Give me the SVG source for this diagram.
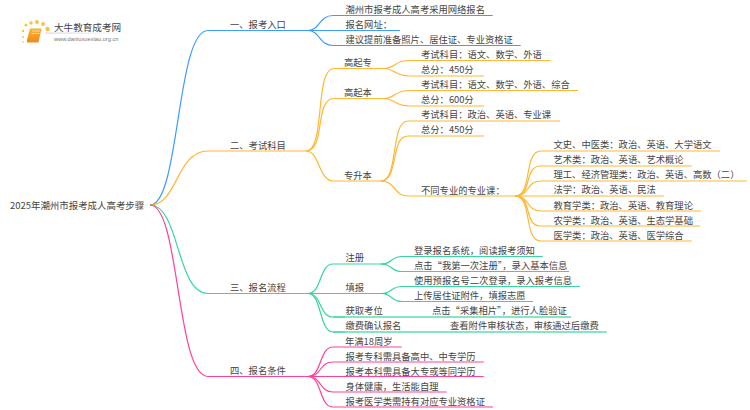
<svg xmlns="http://www.w3.org/2000/svg" width="750" height="410" viewBox="0 0 750 410">
<defs><linearGradient id="fade" x1="0" x2="1" y1="0" y2="0"><stop offset="0" stop-color="#bbb"/><stop offset="1" stop-color="#fff"/></linearGradient>
<linearGradient id="bk" x1="0" x2="0" y1="0" y2="1"><stop offset="0" stop-color="#fbb030"/><stop offset="1" stop-color="#f08a1c"/></linearGradient></defs>
<style>
text{font-family:"Noto Sans CJK SC","Liberation Sans",sans-serif;font-size:9.3px;fill:#444}
path{fill:none;stroke-width:1.2}
.b{stroke:#3d9cff}.o{stroke:#fdb733}.g{stroke:#36d69c}.p{stroke:#ff4199}
.w{stroke-width:1.8;opacity:.6}
circle{fill:#fcc04a}
</style>
<rect width="750" height="410" fill="#fff"/>
<g id="logo">
<circle cx="23" cy="31" r="1.200"/><circle cx="26" cy="25" r="1.500"/><circle cx="31" cy="23" r="1.800"/><circle cx="37" cy="22" r="1.900"/><circle cx="43" cy="24" r="1.900"/><circle cx="47.500" cy="29" r="2.200"/><circle cx="23" cy="37" r="1"/><circle cx="23" cy="42" r=".8"/>
<path d="M30 28.500H41.500L38.500 42.500H27.500Q26.500 42.500 27 40Z" style="fill:url(#bk);stroke:none"/><path d="M32 31H40M31.500 33.500H39.500" style="stroke:#fff;stroke-width:.6"/>
<rect x="45" y="32.700" width="88" height=".7" fill="url(#fade)"/>
<text x="54" y="30.500" style="font-size:9.600px">大牛教育成考网</text>
<text x="54" y="40.700" style="font-size:5.700px;fill:#777;font-family:'Liberation Sans',sans-serif">www.daniuxuexiao.org.cn</text>
</g>
<g id="connectors">
<path class="b" d="M150 205C180 205 176 30.500 208 30.500H312"/>
<path class="o" d="M150 205C178 205 176 151 208 151H306"/>
<path class="g" d="M150 205C180 205 176 293.500 208 293.500H308"/>
<path class="p" d="M150 205C180 205 176 376.500 208 376.500H308"/>
<path class="b" d="M308 30.500C320 30.500 319 15.500 333 15.500H492.700"/>
<path class="b" d="M308 30.500H400"/>
<path class="b" d="M308 30.500C320 30.500 319 45.500 333 45.500H520.700"/>
<path class="o" d="M306 151C326 151 314 68.500 334 68.500H387"/>
<path class="o" d="M306 151C326 151 314 98.500 334 98.500H387"/>
<path class="o" d="M306 151C320 151 318 181 334 181H383"/>
<path class="o" d="M383 68.500C396 68.500 394 60.500 409 60.500H550.700"/>
<path class="o" d="M383 68.500C396 68.500 394 76 409 76H484"/>
<path class="o" d="M383 98.500C396 98.500 394 90.500 409 90.500H578"/>
<path class="o" d="M383 98.500C396 98.500 394 106 409 106H484"/>
<path class="o" d="M381 181C399 181 390 121 408 121H560"/>
<path class="o" d="M381 181C399 181 390 136 408 136H484"/>
<path class="o" d="M381 181C395 181 394 196 408 196H516"/>
<path class="o" d="M515 196C533 196 523 151 541 151H720"/>
<path class="o" d="M515 196C533 196 523 166 541 166H691.700"/>
<path class="o" d="M515 196C530 196 526 181 541 181H747"/>
<path class="o" d="M515 196H664"/>
<path class="o" d="M515 196C530 196 526 211 541 211H701"/>
<path class="o" d="M515 196C533 196 523 226 541 226H700"/>
<path class="o" d="M515 196C533 196 523 241 541 241H691.700"/>
<path class="g" d="M308 293.500C322 293.500 319 264 333 264H387"/>
<path class="g" d="M308 293.500H387"/>
<path class="g" d="M308 293.500C322 293.500 319 317 333 317H345"/>
<path class="g" d="M308 293.500C322 293.500 319 332 333 332H345"/>
<path class="g w" d="M333 317H571"/>
<path class="g w" d="M333 332H606.700"/>
<path class="g" d="M381 264C393 264 390 256.500 402 256.500H542.700"/>
<path class="g" d="M381 264C393 264 390 271.500 402 271.500H569"/>
<path class="g" d="M381 293.500C393 293.500 390 286.500 402 286.500H580"/>
<path class="g" d="M381 293.500C393 293.500 390 301.500 402 301.500H533"/>
<path class="p" d="M308 376.500C322 376.500 319 347 333 347H401.700"/>
<path class="p" d="M308 376.500C322 376.500 319 362 333 362H483.700"/>
<path class="p" d="M308 376.500H483.700"/>
<path class="p" d="M308 376.500C322 376.500 319 392 333 392H446.700"/>
<path class="p" d="M308 376.500C322 376.500 319 407 333 407H493"/>
</g>
<g id="root"><text x="10" y="208.500" style="font-size:9.450px">2025年潮州市报考成人高考步骤</text></g>
<g id="n1"><text x="230" y="28">一、报考入口</text></g>
<g id="n1a"><text x="345.500" y="13">潮州市报考成人高考采用网络报名</text></g>
<g id="n1b"><text x="345.500" y="28">报名网址：</text></g>
<g id="n1c"><text x="345.500" y="43">建议提前准备照片、居住证、专业资格证</text></g>
<g id="n2"><text x="230" y="148.500">二、考试科目</text></g>
<g id="n2a"><text x="344" y="65.500">高起专</text></g>
<g id="n2a1"><text x="421" y="58">考试科目：语文、数学、外语</text></g>
<g id="n2a2"><text x="421" y="73">总分：450分</text></g>
<g id="n2b"><text x="344" y="95.500">高起本</text></g>
<g id="n2b1"><text x="421" y="88">考试科目：语文、数学、外语、综合</text></g>
<g id="n2b2"><text x="421" y="103">总分：600分</text></g>
<g id="n2c"><text x="344" y="178.500">专升本</text></g>
<g id="n2c1"><text x="421" y="118">考试科目：政治、英语、专业课</text></g>
<g id="n2c2"><text x="421" y="133">总分：450分</text></g>
<g id="n2c3"><text x="421" y="193.500">不同专业的专业课：</text></g>
<g id="m1"><text x="553.500" y="148">文史、中医类：政治、英语、大学语文</text></g>
<g id="m2"><text x="553.500" y="163">艺术类：政治、英语、艺术概论</text></g>
<g id="m3"><text x="553.500" y="178">理工、经济管理类：政治、英语、高数（二）</text></g>
<g id="m4"><text x="553.500" y="193">法学：政治、英语、民法</text></g>
<g id="m5"><text x="553.500" y="208.500">教育学类：政治、英语、教育理论</text></g>
<g id="m6"><text x="553.500" y="223.500">农学类：政治、英语、生态学基础</text></g>
<g id="m7"><text x="553.500" y="238.500">医学类：政治、英语、医学综合</text></g>
<g id="n3"><text x="230" y="291">三、报名流程</text></g>
<g id="n3a"><text x="345.500" y="261">注册</text></g>
<g id="n3a1"><text x="414" y="254">登录报名系统，阅读报考须知</text></g>
<g id="n3a2"><text x="414" y="269">点击“我第一次注册”，录入基本信息</text></g>
<g id="n3b"><text x="345.500" y="291">填报</text></g>
<g id="n3b1"><text x="414" y="284">使用预报名号二次登录，录入报考信息</text></g>
<g id="n3b2"><text x="414" y="299">上传居住证附件，填报志愿</text></g>
<g id="n3c"><text x="345.500" y="314">获取考位</text><text x="432" y="314">点击“采集相片”，进行人脸验证</text></g>
<g id="n3d"><text x="345.500" y="329">缴费确认报名</text><text x="450" y="329">查看附件审核状态，审核通过后缴费</text></g>
<g id="n4"><text x="230" y="374">四、报名条件</text></g>
<g id="n4a"><text x="345" y="344.500">年满18周岁</text></g>
<g id="n4b"><text x="345.500" y="359.500">报考专科需具备高中、中专学历</text></g>
<g id="n4c"><text x="345.500" y="374.500">报考本科需具备大专或等同学历</text></g>
<g id="n4d"><text x="345.500" y="389.500">身体健康，生活能自理</text></g>
<g id="n4e"><text x="345.500" y="404.500">报考医学类需持有对应专业资格证</text></g>
</svg>
